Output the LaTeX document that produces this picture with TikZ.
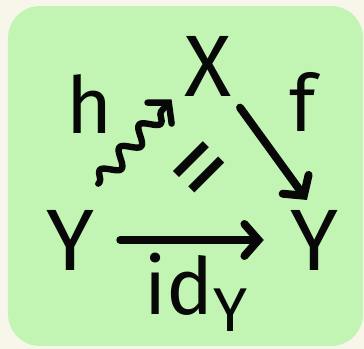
\documentclass[tikz,border=0pt]{standalone}
\usepackage{fontspec}
\setsansfont{Fira Sans}
\usetikzlibrary{arrows.meta,positioning,decorations.pathmorphing}
\definecolor{PaperCream}{RGB}{248,245,234}
\definecolor{NoteGreen}{RGB}{194,245,179}
\definecolor{InkBlack}{RGB}{8,8,8}
\tikzset{
  obj/.style={inner sep=0pt, text=InkBlack, font=\fontsize{62}{62}\selectfont\sffamily},
  lbl/.style={inner sep=0pt, text=InkBlack, font=\fontsize{56}{56}\selectfont\sffamily},
  arrow/.style={-{Straight Barb[length=3.5mm,width=8mm,line cap=round]}, line width=2mm,
    line cap=round, line join=round, draw=InkBlack},
  squig/.style={arrow, line width=1.6mm, decorate, decoration={snake, amplitude=2mm,
    segment length=7.5mm, pre length=0.5mm, post length=3mm}}
}

\begin{document}
\begin{tikzpicture}[x=0.025cm, y=-0.025cm]
  \useasboundingbox (0,0) rectangle (364,349);
  \fill[PaperCream] (0,0) rectangle (364,349);
  \fill[NoteGreen, rounded corners=0.8cm] (8,6) rectangle (363,346);
  % objects
  \node[obj] (x) at (208,66) {X};
  \node[obj] (yl) at (70,240) {Y};
  \node[obj] (yr) at (314,240) {Y};
  % labels
  \node[lbl] (h) at (90,104) {h};
  \node[lbl] (f) at (303,102) {f};
  \node[lbl] (id) at (196,292) {id\raisebox{-0.22em}{\fontsize{44}{44}\selectfont Y}};
  \node[obj, rotate=45, font=\fontsize{80}{80}\selectfont\sffamily] (eq) at (207,175) {=};
  % arrows
  \draw[squig, shorten >=0.1cm] ([xshift=0.1cm,yshift=0.65cm]yl.north east)
    -- ([xshift=-0.25cm]x.south west);
  \draw[arrow, shorten <=0.35cm, shorten >=0.3cm] (x.south east) -- (yr.north);
  \draw[arrow, shorten <=0.65cm, shorten >=0.65cm] (yl.east) -- (yr.west);
\end{tikzpicture}
\end{document}
